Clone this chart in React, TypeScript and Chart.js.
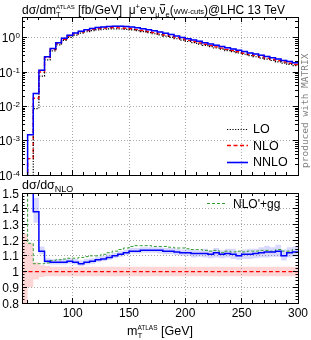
import React, { useEffect, useRef } from 'react';
import { Chart, registerables } from 'chart.js';
Chart.register(...registerables);

// ---------------- data ----------------
const binLow = [55, 60, 65, 70, 75, 80, 85, 90, 95, 100, 105, 110, 115, 120, 125, 130, 135, 140, 145, 150,
  155, 160, 165, 170, 175, 180, 185, 190, 195, 200, 205, 210, 215, 220, 225, 230, 235, 240, 245, 250,
  255, 260, 265, 270, 275, 280, 285, 290, 295];
const binEnd = 300;

// dσ/dmT [fb/GeV]; 1e-7 marks an empty (zero) bin
const loVals = [1e-7, 1e-7, 0.0087, 0.077, 0.23, 0.42, 0.63, 0.85, 1.04, 1.22, 1.38, 1.52, 1.64, 1.73, 1.80, 1.84, 1.85, 1.83, 1.78, 1.72,
  1.63, 1.53, 1.43, 1.33, 1.23, 1.13, 1.04, 0.95, 0.87, 0.79, 0.73, 0.665, 0.61, 0.56, 0.51, 0.47, 0.43, 0.40, 0.365, 0.335,
  0.305, 0.283, 0.26, 0.24, 0.22, 0.2, 0.185, 0.17, 0.156];
const nloVals = [1e-7, 3.0e-4, 0.0174, 0.102, 0.268, 0.46, 0.69, 0.92, 1.13, 1.32, 1.50, 1.65, 1.78, 1.88, 1.95, 2.0, 2.01, 1.98, 1.93, 1.86,
  1.76, 1.65, 1.54, 1.43, 1.32, 1.22, 1.12, 1.02, 0.93, 0.85, 0.78, 0.715, 0.655, 0.6, 0.55, 0.505, 0.465, 0.43, 0.395, 0.36,
  0.33, 0.305, 0.28, 0.257, 0.236, 0.217, 0.2, 0.183, 0.168];
const nnloVals = [1e-7, 1.5e-3, 0.024, 0.115, 0.285, 0.49, 0.73, 0.975, 1.20, 1.40, 1.575, 1.75, 1.90, 2.02, 2.11, 2.18, 2.21, 2.20, 2.16, 2.10,
  2.00, 1.87, 1.75, 1.62, 1.50, 1.38, 1.27, 1.15, 1.04, 0.95, 0.87, 0.80, 0.73, 0.67, 0.615, 0.56, 0.52, 0.48, 0.435, 0.40,
  0.366, 0.34, 0.314, 0.289, 0.266, 0.245, 0.22, 0.205, 0.189];

// ratios to NLO
const nnloRatio = [null, 5, 1.38, 1.13, 1.065, 1.06, 1.06, 1.06, 1.065, 1.06, 1.05, 1.06, 1.065, 1.075, 1.08, 1.09, 1.10, 1.11, 1.12, 1.13,
  1.13, 1.135, 1.135, 1.135, 1.135, 1.13, 1.13, 1.125, 1.12, 1.12, 1.115, 1.115, 1.115, 1.11, 1.12, 1.11, 1.115, 1.11, 1.10, 1.11,
  1.11, 1.115, 1.12, 1.125, 1.125, 1.13, 1.10, 1.12, 1.125];
const nnloBandLo = [null, null, 1.31, 1.11, 1.05, 1.045, 1.045, 1.045, 1.05, 1.045, 1.035, 1.045, 1.05, 1.06, 1.065, 1.075, 1.085, 1.095, 1.105, 1.115,
  1.115, 1.12, 1.12, 1.12, 1.115, 1.11, 1.11, 1.105, 1.10, 1.10, 1.09, 1.095, 1.09, 1.085, 1.09, 1.085, 1.09, 1.08, 1.075, 1.08,
  1.08, 1.085, 1.09, 1.09, 1.095, 1.095, 1.07, 1.09, 1.095];
const nnloBandHi = [null, null, 1.47, 1.16, 1.085, 1.08, 1.08, 1.08, 1.085, 1.08, 1.07, 1.08, 1.085, 1.095, 1.10, 1.11, 1.12, 1.13, 1.14, 1.15,
  1.15, 1.155, 1.155, 1.155, 1.155, 1.15, 1.15, 1.145, 1.14, 1.14, 1.14, 1.135, 1.145, 1.135, 1.15, 1.135, 1.145, 1.145, 1.13, 1.14,
  1.145, 1.145, 1.155, 1.165, 1.155, 1.17, 1.14, 1.155, 1.16];
const nloBandLo = [0.7, 0.90, 0.95, 0.965, 0.97, 0.97, 0.97, 0.97, 0.97, 0.97, 0.97, 0.97, 0.97, 0.97, 0.97, 0.97, 0.97, 0.97, 0.97, 0.97,
  0.97, 0.97, 0.97, 0.97, 0.97, 0.97, 0.97, 0.97, 0.97, 0.97, 0.97, 0.97, 0.97, 0.97, 0.97, 0.97, 0.97, 0.97, 0.97, 0.97,
  0.97, 0.97, 0.97, 0.97, 0.97, 0.97, 0.97, 0.97, 0.97];
const nloBandHi = [1.24, 1.18, 1.06, 1.04, 1.035, 1.03, 1.03, 1.03, 1.03, 1.03, 1.03, 1.03, 1.03, 1.03, 1.03, 1.03, 1.03, 1.03, 1.03, 1.03,
  1.03, 1.03, 1.03, 1.03, 1.03, 1.03, 1.03, 1.03, 1.03, 1.03, 1.03, 1.03, 1.03, 1.03, 1.03, 1.03, 1.03, 1.03, 1.03, 1.03,
  1.03, 1.03, 1.03, 1.03, 1.03, 1.03, 1.03, 1.03, 1.03];
const nloRatio = [1, 1, 1, 1, 1, 1, 1, 1, 1, 1, 1, 1, 1, 1, 1, 1, 1, 1, 1, 1,
  1, 1, 1, 1, 1, 1, 1, 1, 1, 1, 1, 1, 1, 1, 1, 1, 1, 1, 1, 1,
  1, 1, 1, 1, 1, 1, 1, 1, 1];
const ggRatio = [2, 1.18, 1.05, 1.05, 1.055, 1.07, 1.075, 1.08, 1.085, 1.085, 1.09, 1.095, 1.10, 1.10, 1.11, 1.12, 1.13, 1.14, 1.15, 1.16,
  1.165, 1.165, 1.165, 1.16, 1.16, 1.16, 1.155, 1.15, 1.15, 1.145, 1.14, 1.14, 1.135, 1.13, 1.135, 1.12, 1.13, 1.125, 1.13, 1.125,
  1.13, 1.13, 1.135, 1.135, 1.13, 1.14, 1.13, 1.13, 1.14];

// axes / ticks
const xMin = 55, xMax = 300;
const xMajor = [100, 150, 200, 250, 300];
const xMinor = [60, 70, 80, 90, 110, 120, 130, 140, 160, 170, 180, 190, 210, 220, 230, 240, 260, 270, 280, 290];
const yTopMin = 1e-4, yTopMax = 4.1;
const decades = [0, -1, -2, -3, -4];
const ratioMin = 0.8, ratioMax = 1.5;
const ratioTicks = [0.8, 0.9, 1, 1.1, 1.2, 1.3, 1.4, 1.5];
const ratioLabels = ['0.8', '0.9', '1', '1.1', '1.2', '1.3', '1.4', '1.5'];

const SANS = '"Liberation Sans", Arial, Helvetica, sans-serif';
const BLUE = '#0000ff', RED = '#ff0000', GREEN = '#2f9a2f';

// ---------------- helpers ----------------
const hist = (vals: (number | null)[]) => {
  const pts = binLow.map((x, i) => ({ x, y: vals[i] }));
  pts.push({ x: binEnd, y: vals[vals.length - 1] });
  return pts;
};
const bandTop = (vals: number[], f: number) => vals.map(v => v * f);

type Seg = { t: string; s: number; dy?: number; hold?: boolean; bar?: boolean };
function drawRich(ctx: CanvasRenderingContext2D, x: number, y: number, segs: Seg[], measureOnly = false) {
  let cx = x;
  let holdW = 0;
  for (const g of segs) {
    ctx.font = `${g.s}px ${SANS}`;
    const w = ctx.measureText(g.t).width;
    if (!measureOnly) {
      ctx.fillText(g.t, cx, y + (g.dy || 0));
      if (g.bar) {
        ctx.fillRect(cx + 0.5, y - g.s * 0.78, w - 1, 1);
      }
    }
    if (g.hold) holdW = w;
    else { cx += Math.max(w, holdW); holdW = 0; }
  }
  return cx - x;
}

function hline(ctx: CanvasRenderingContext2D, x1: number, x2: number, y: number) {
  ctx.beginPath(); ctx.moveTo(x1, y); ctx.lineTo(x2, y); ctx.stroke();
}
function vline(ctx: CanvasRenderingContext2D, x: number, y1: number, y2: number) {
  ctx.beginPath(); ctx.moveTo(x, y1); ctx.lineTo(x, y2); ctx.stroke();
}
const r5 = (v: number) => Math.round(v - 0.5) + 0.5;

function drawXTicks(chart: any) {
  const { ctx, chartArea: a, scales } = chart;
  const x = scales.x;
  ctx.strokeStyle = '#000'; ctx.lineWidth = 1; ctx.setLineDash([]);
  for (const v of xMajor) {
    const px = r5(x.getPixelForValue(v));
    vline(ctx, px, a.bottom, a.bottom - 5);
    vline(ctx, px, a.top, a.top + 5);
  }
  for (const v of xMinor) {
    const px = r5(x.getPixelForValue(v));
    vline(ctx, px, a.bottom, a.bottom - 3);
    vline(ctx, px, a.top, a.top + 3);
  }
}
function drawFrame(chart: any) {
  const { ctx, chartArea: a } = chart;
  ctx.strokeStyle = '#000'; ctx.lineWidth = 1; ctx.setLineDash([]);
  ctx.strokeRect(r5(a.left), r5(a.top), Math.round(a.right - a.left), Math.round(a.bottom - a.top));
}
function drawXGrid(chart: any) {
  const { ctx, chartArea: a, scales } = chart;
  ctx.strokeStyle = '#a8a8a8'; ctx.lineWidth = 1; ctx.setLineDash([1, 2]);
  for (const v of [100, 150, 200, 250]) {
    const px = r5(scales.x.getPixelForValue(v));
    vline(ctx, px, a.top, a.bottom);
  }
}

const topPlugin = {
  id: 'topDecor',
  beforeDatasetsDraw(chart: any) {
    const { ctx, chartArea: a, scales } = chart;
    ctx.save();
    drawXGrid(chart);
    ctx.strokeStyle = '#a8a8a8'; ctx.setLineDash([1, 2]);
    for (const d of [-1, -2, -3, 0]) {
      const py = r5(scales.y.getPixelForValue(Math.pow(10, d)));
      hline(ctx, a.left, a.right, py);
    }
    ctx.restore();
  },
  afterDraw(chart: any) {
    const { ctx, chartArea: a, scales } = chart;
    const y = scales.y;
    ctx.save();
    drawFrame(chart);
    drawXTicks(chart);
    // y ticks (log)
    ctx.setLineDash([]);
    for (let d = -4; d <= 0; d++) {
      for (let m = 1; m <= 9; m++) {
        const v = m * Math.pow(10, d);
        if (v < yTopMin || v > yTopMax) continue;
        const py = r5(y.getPixelForValue(v));
        const len = m === 1 ? 5 : 3;
        hline(ctx, a.left, a.left + len, py);
        hline(ctx, a.right, a.right - len, py);
      }
    }
    // y labels
    ctx.fillStyle = '#000';
    ctx.textBaseline = 'alphabetic';
    for (const d of decades) {
      const py = y.getPixelForValue(Math.pow(10, d));
      const exp = d === 0 ? '0' : '-' + String(-d);
      ctx.font = `8px ${SANS}`;
      ctx.textAlign = 'right';
      ctx.fillText(exp, a.left - 2, py + 0.5);
      const ew = ctx.measureText(exp).width;
      ctx.font = `12px ${SANS}`;
      ctx.fillText('10', a.left - 2.5 - ew, py + 4.5);
    }
    ctx.textAlign = 'left';
    // title
    drawRich(ctx, 22, 13.5, [
      { t: 'dσ/dm', s: 12 }, { t: 'T', s: 7.5, dy: 3, hold: true }, { t: 'ATLAS', s: 6, dy: -4.5 },
      { t: ' [fb/GeV]  μ', s: 12 }, { t: '+', s: 7.5, dy: -4.5 }, { t: 'e', s: 12 }, { t: '-', s: 8, dy: -4.5 },
      { t: 'ν', s: 12 }, { t: 'μ', s: 7.5, dy: 3 }, { t: 'ν', s: 12, bar: true }, { t: 'e', s: 7.5, dy: 3 },
      { t: '(', s: 12 }, { t: 'WW-cuts', s: 7.5 }, { t: ')@LHC 13 TeV', s: 12 },
    ]);
    // legend
    const legend = [
      { label: 'LO', color: '#000', dash: [1.2, 1.5], w: 1.2, y: 128.5 },
      { label: 'NLO', color: RED, dash: [4, 2.5], w: 1.4, y: 145 },
      { label: 'NNLO', color: BLUE, dash: [], w: 1.6, y: 161.5 },
    ];
    for (const l of legend) {
      ctx.strokeStyle = l.color; ctx.lineWidth = l.w; ctx.setLineDash(l.dash);
      hline(ctx, 227, 248, Math.round(l.y) + 0.5);
      ctx.fillStyle = '#000';
      ctx.font = `12.5px ${SANS}`;
      ctx.fillText(l.label, 253, l.y + 4.5);
    }
    // produced with MATRIX
    ctx.save();
    ctx.translate(307.5, 168);
    ctx.rotate(-Math.PI / 2);
    ctx.fillStyle = '#808080';
    ctx.font = `9.5px "DejaVu Sans Mono", monospace`;
    ctx.fillText('produced with MATRIX', 0, 0);
    ctx.restore();
    ctx.restore();
  },
};

const botPlugin = {
  id: 'botDecor',
  beforeDatasetsDraw(chart: any) {
    const { ctx, chartArea: a, scales } = chart;
    ctx.save();
    drawXGrid(chart);
    ctx.strokeStyle = '#a8a8a8'; ctx.setLineDash([1, 2]);
    for (const v of [0.9, 1.1, 1.2, 1.3, 1.4]) {
      const py = r5(scales.y.getPixelForValue(v));
      hline(ctx, a.left, a.right, py);
    }
    ctx.restore();
  },
  afterDraw(chart: any) {
    const { ctx, chartArea: a, scales } = chart;
    const x = scales.x, y = scales.y;
    ctx.save();
    drawFrame(chart);
    drawXTicks(chart);
    ctx.setLineDash([]);
    for (let i = 0; i <= 35; i++) {
      const v = ratioMin + i * 0.02;
      const py = r5(y.getPixelForValue(v));
      const len = i % 5 === 0 ? 5 : 2.5;
      hline(ctx, a.left, a.left + len, py);
      hline(ctx, a.right, a.right - len, py);
    }
    ctx.fillStyle = '#000';
    ctx.font = `12px ${SANS}`;
    ctx.textAlign = 'right';
    ratioTicks.forEach((v, i) => {
      ctx.fillText(ratioLabels[i], a.left - 3, y.getPixelForValue(v) + 4.5);
    });
    ctx.textAlign = 'center';
    for (const v of xMajor) {
      ctx.fillText(String(v), x.getPixelForValue(v), a.bottom + 14);
    }
    ctx.textAlign = 'left';
    // ratio label
    drawRich(ctx, 22, a.top - 4, [{ t: 'dσ/dσ', s: 12.5 }, { t: 'NLO', s: 9, dy: 3 }]);
    // x title
    const segs: Seg[] = [{ t: 'm', s: 12.5 }, { t: 'T', s: 8, dy: 3, hold: true }, { t: 'ATLAS', s: 6.5, dy: -5 }, { t: ' [GeV]', s: 12.5 }];
    const w = drawRich(ctx, 0, 0, segs, true);
    drawRich(ctx, (a.left + a.right) / 2 - w / 2, a.bottom + 32, segs);
    // legend
    ctx.strokeStyle = GREEN; ctx.lineWidth = 1; ctx.setLineDash([3, 2]);
    hline(ctx, 207, 227, Math.round(a.top + 10) + 0.5);
    ctx.fillStyle = '#000';
    ctx.font = `12px ${SANS}`;
    ctx.fillText("NLO'+gg", 233, a.top + 14.5);
    ctx.restore();
  },
};

export default function App() {
  const topRef = useRef<HTMLCanvasElement>(null);
  const botRef = useRef<HTMLCanvasElement>(null);

  useEffect(() => {
    const common: any = {
      responsive: false,
      animation: false,
      devicePixelRatio: 1,
      events: [],
      plugins: { legend: { display: false }, tooltip: { enabled: false } },
      elements: { point: { radius: 0 } },
    };
    const line = (data: any, color: string, width: number, dash: number[], order: number, extra: any = {}) => ({
      data, borderColor: color, borderWidth: width, borderDash: dash, stepped: true, fill: false,
      pointRadius: 0, spanGaps: false, order, ...extra,
    });

    const top = new Chart(topRef.current!, {
      type: 'line',
      data: {
        datasets: [
          line(hist(bandTop(nnloVals, 0.96)), 'rgba(0,0,0,0)', 0, [], 10),
          line(hist(bandTop(nnloVals, 1.05)), 'rgba(0,0,0,0)', 0, [], 9, { fill: '-1', backgroundColor: 'rgba(80,80,255,0.35)' }),
          line(hist(loVals), '#000', 1.2, [1.2, 1.5], 2),
          line(hist(nloVals), RED, 1.4, [4, 2.5], 3),
          line(hist(nnloVals), BLUE, 1.5, [], 1),
        ],
      },
      options: {
        ...common,
        layout: { padding: { left: 22, right: 13, top: 17, bottom: 10 } },
        scales: {
          x: { type: 'linear', min: xMin, max: xMax, display: false },
          y: { type: 'logarithmic', min: yTopMin, max: yTopMax, display: false },
        },
      },
      plugins: [topPlugin],
    });

    const bot = new Chart(botRef.current!, {
      type: 'line',
      data: {
        datasets: [
          line(hist(nloBandLo), 'rgba(0,0,0,0)', 0, [], 20),
          line(hist(nloBandHi), 'rgba(0,0,0,0)', 0, [], 19, { fill: '-1', backgroundColor: 'rgba(255,0,0,0.16)' }),
          line(hist(nnloBandLo), 'rgba(0,0,0,0)', 0, [], 18),
          line(hist(nnloBandHi), 'rgba(0,0,0,0)', 0, [], 17, { fill: '-1', backgroundColor: 'rgba(60,60,255,0.2)' }),
          line(hist(nloRatio), RED, 1.3, [4, 2.5], 3),
          line(hist(ggRatio), GREEN, 1, [3, 2], 2),
          line(hist(nnloRatio), BLUE, 1.5, [], 1),
        ],
      },
      options: {
        ...common,
        layout: { padding: { left: 22, right: 13, top: 23, bottom: 37 } },
        scales: {
          x: { type: 'linear', min: xMin, max: xMax, display: false },
          y: { type: 'linear', min: ratioMin, max: ratioMax, display: false },
        },
      },
      plugins: [botPlugin],
    });

    return () => { top.destroy(); bot.destroy(); };
  }, []);

  return (
    <div style={{ position: 'fixed', left: 0, top: 0, width: 311, height: 340, background: '#fff' }}>
      <canvas ref={topRef} width={311} height={185} style={{ position: 'absolute', left: 0, top: 0, width: 311, height: 185 }} />
      <canvas ref={botRef} width={311} height={170} style={{ position: 'absolute', left: 0, top: 170, width: 311, height: 170 }} />
    </div>
  );
}
